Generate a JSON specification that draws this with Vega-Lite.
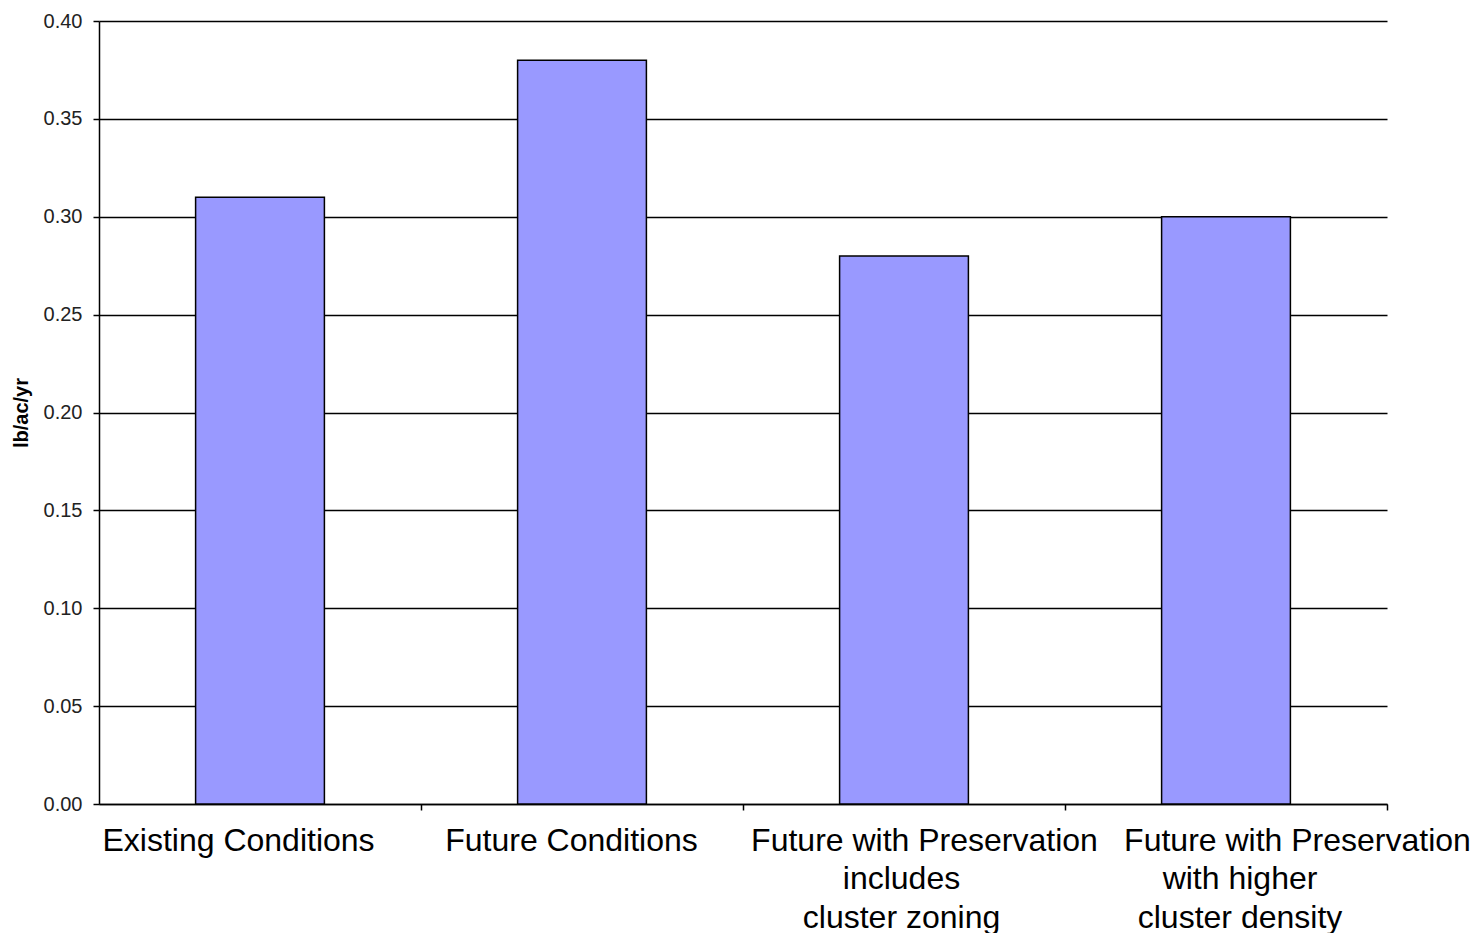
{
  "$schema": "https://vega.github.io/schema/vega-lite/v6.json",
  "width": 1288,
  "height": 783,
  "autosize": "none",
  "padding": {"left": 99, "top": 21, "right": 86, "bottom": 129},
  "background": "white",
  "config": {"view": {"stroke": null}, "font": "Liberation Sans"},
  "data": {"values": [
    {"scenario": "Existing Conditions", "load": 0.31},
    {"scenario": "Future Conditions", "load": 0.38},
    {"scenario": "Future with Preservation\nincludes\ncluster zoning", "load": 0.28},
    {"scenario": "Future with Preservation\nwith higher\ncluster density", "load": 0.30}
  ]},
  "mark": {"type": "bar", "fill": "#9999FF", "stroke": "#000000", "strokeWidth": 1.5},
  "encoding": {
    "x": {
      "field": "scenario", "type": "nominal", "sort": null,
      "scale": {"paddingInner": 0.6, "paddingOuter": 0.3},
      "axis": {
        "title": null,
        "labelAngle": 0,
        "labelExpr": "indexof(datum.label,'\\n')<0 ? datum.label : (indexof(datum.label,'includes')>0 ? [split(datum.label,'\\n')[0], split(datum.label,'\\n')[1] + '\u2800\u2800', split(datum.label,'\\n')[2] + '\u2800\u2800'] : [split(datum.label,'\\n')[0], split(datum.label,'\\n')[1] + '\u2800\u2800\u2800\u2800\u2800', split(datum.label,'\\n')[2] + '\u2800\u2800\u2800\u2800\u2800'])",
        "labelFont": "Liberation Sans",
        "labelFontSize": 32,
        "labelColor": "#000000",
        "labelLineHeight": 38.5,
        "labelPadding": 15,
        "labelBaseline": "top",
        "labelLimit": 0,
        "tickOffset": 161,
        "labelOffset": {"expr": "indexof(datum.value,'Existing')==0 ? -183 : indexof(datum.value,'Future Conditions')==0 ? -172 : indexof(datum.value,'includes')>0 ? -141 : -90"},
        "tickSize": 6,
        "tickColor": "#000000",
        "tickWidth": 1.5,
        "domainColor": "#000000",
        "domainWidth": 1.5,
        "grid": false
      }
    },
    "y": {
      "field": "load", "type": "quantitative",
      "scale": {"domain": [0, 0.4], "nice": false},
      "axis": {
        "title": "lb/ac/yr",
        "titleFont": "Liberation Sans",
        "titleFontSize": 20,
        "titleFontWeight": "bold",
        "titleColor": "#000000",
        "titlePadding": 12,
        "values": [0, 0.05, 0.1, 0.15, 0.2, 0.25, 0.3, 0.35, 0.4],
        "format": ".2f",
        "labelFont": "Liberation Sans",
        "labelFontSize": 20,
        "labelColor": "#222222",
        "labelPadding": 11,
        "tickSize": 6,
        "tickColor": "#000000",
        "tickWidth": 1.5,
        "domainColor": "#000000",
        "domainWidth": 1.5,
        "grid": true,
        "gridColor": "#000000",
        "gridWidth": 1.5
      }
    }
  }
}
